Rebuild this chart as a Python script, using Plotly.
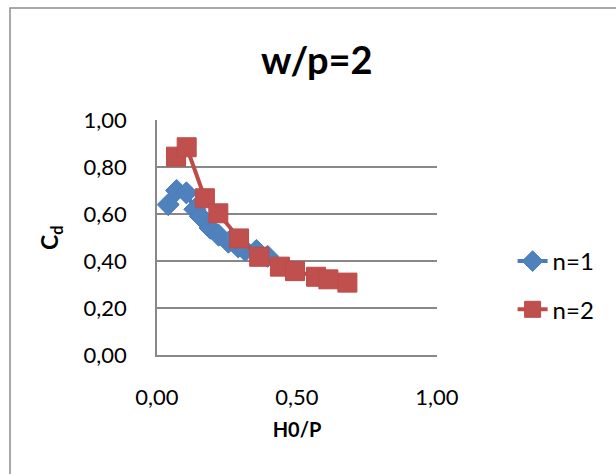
import plotly.graph_objects as go

# Data
x_n1 = [0.04, 0.07, 0.105, 0.135, 0.155, 0.19, 0.22, 0.255, 0.29, 0.315, 0.355, 0.395]
y_n1 = [0.64, 0.70, 0.69, 0.62, 0.59, 0.54, 0.51, 0.48, 0.46, 0.445, 0.445, 0.42]

x_n2 = [0.068, 0.106, 0.171, 0.219, 0.293, 0.365, 0.439, 0.493, 0.568, 0.612, 0.68]
y_n2 = [0.844, 0.884, 0.667, 0.603, 0.496, 0.418, 0.376, 0.357, 0.333, 0.322, 0.308]

x_ticks = [0.0, 0.5, 1.0]
x_tick_text = ["0,00", "0,50", "1,00"]
y_ticks = [0.0, 0.2, 0.4, 0.6, 0.8, 1.0]
y_tick_text = ["0,00", "0,20", "0,40", "0,60", "0,80", "1,00"]

FONT = "Lato"
GRID = "#888888"
BLUE_LINE, BLUE_FILL = "#4A7EBB", "#4F81BD"
RED_LINE, RED_FILL = "#BE4B48", "#C0504D"

fig = go.Figure()
fig.add_trace(go.Scatter(
    x=x_n1, y=y_n1, name="n=1", mode="lines+markers", legendgroup="a",
    line=dict(color=BLUE_LINE, width=4),
    marker=dict(symbol="diamond", size=17, color=BLUE_FILL, line=dict(color=BLUE_LINE, width=1)),
))
fig.add_trace(go.Scatter(
    x=x_n2, y=y_n2, name="n=2", mode="lines+markers", legendgroup="b",
    line=dict(color=RED_LINE, width=4),
    marker=dict(symbol="square", size=19, color=RED_FILL, line=dict(color=RED_LINE, width=1)),
))

fig.update_layout(
    width=616, height=474,
    margin=dict(l=157, r=179, t=120, b=119),
    paper_bgcolor="white", plot_bgcolor="white",
    font=dict(family=FONT, size=22, color="black"),
    showlegend=True,
    legend=dict(x=1.27, y=(355 - 285.5) / 235, xanchor="left", yanchor="middle",
                font=dict(size=24), tracegroupgap=14, itemwidth=30,
                bgcolor="rgba(0,0,0,0)"),
    xaxis=dict(range=[0, 1], tickvals=x_ticks, ticktext=x_tick_text,
               showgrid=False, zeroline=False, showline=True, linecolor=GRID, linewidth=1.5,
               ticks="", ticklabelstandoff=22,
               title=dict(text="<b>H0/P</b>", font=dict(size=20), standoff=14)),
    yaxis=dict(range=[0, 1], tickvals=y_ticks, ticktext=y_tick_text,
               showgrid=True, gridcolor=GRID, gridwidth=1.5, zeroline=False,
               showline=True, linecolor=GRID, linewidth=1.5,
               ticks="", ticklabelstandoff=24),
    annotations=[
        dict(text="<b>w/p=2</b>", xref="paper", yref="paper", x=0.571, y=(355 - 59) / 235,
             xanchor="center", yanchor="middle", showarrow=False, font=dict(size=38)),
        dict(text="<b>C<sub>d</sub></b>", xref="paper", yref="paper", x=(50 - 157) / 280,
             y=(355 - 238) / 235, xanchor="center", yanchor="middle", showarrow=False,
             textangle=-90, font=dict(size=23)),
    ],
    shapes=[
        dict(type="rect", xref="paper", yref="paper",
             x0=(10 - 157) / 280, x1=3, y0=-3, y1=(355 - 8) / 235,
             line=dict(color="#8C8C8C", width=1.5), fillcolor="rgba(0,0,0,0)", layer="below"),
    ],
)

fig.write_html("out.html")
